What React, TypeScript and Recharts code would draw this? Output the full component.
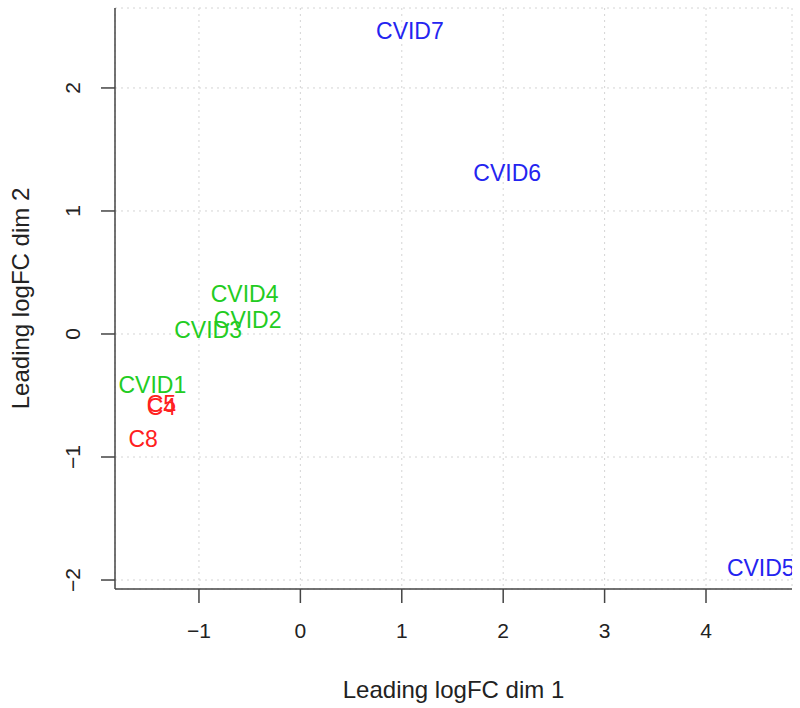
import React from 'react';
import { ScatterChart, Scatter, XAxis, YAxis, CartesianGrid } from 'recharts';

const redNames = ['C5', 'C4', 'C8'];
const redX = [-1.37, -1.37, -1.55];
const redY = [-0.57, -0.59, -0.855];

const greenNames = ['CVID1', 'CVID2', 'CVID3', 'CVID4'];
const greenX = [-1.46, -0.52, -0.91, -0.55];
const greenY = [-0.415, 0.11, 0.035, 0.325];

const blueNames = ['CVID5', 'CVID6', 'CVID7'];
const blueX = [4.54, 2.04, 1.08];
const blueY = [-1.9, 1.31, 2.46];

const xTicks = [-1, 0, 1, 2, 3, 4];
const yTicks = [-2, -1, 0, 1, 2];

const font = '"Liberation Sans", Arial, sans-serif';

const toRows = (names: string[], xs: number[], ys: number[]) =>
  names.map((name, i) => ({ name, x: xs[i], y: ys[i] }));

const red = toRows(redNames, redX, redY);
const green = toRows(greenNames, greenX, greenY);
const blue = toRows(blueNames, blueX, blueY);

const fmt = (v: number) => (v < 0 ? '\u2212' + Math.abs(v) : String(v));

const labelShape = (color: string) => (props: any) => (
  <text
    x={props.cx}
    y={props.cy}
    textAnchor="middle"
    dominantBaseline="central"
    fill={color}
    fontSize={23}
    fontFamily={font}
  >
    {props.payload.name}
  </text>
);

const XTick = (props: any) => (
  <text x={props.x} y={props.y} dy={25} textAnchor="middle" fill="#222" fontSize={21} fontFamily={font}>
    {fmt(props.payload.value)}
  </text>
);

const YTick = (props: any) => (
  <text
    x={props.x - 26}
    y={props.y}
    transform={`rotate(-90 ${props.x - 26} ${props.y})`}
    textAnchor="middle"
    dominantBaseline="central"
    fill="#222"
    fontSize={21}
    fontFamily={font}
  >
    {fmt(props.payload.value)}
  </text>
);

export default function App() {
  return (
    <div style={{ position: 'absolute', left: 0, top: 0, width: 800, height: 708, background: '#fff' }}>
      <ScatterChart width={800} height={708} margin={{ top: 8, right: 8, bottom: 0, left: 0 }}>
        <CartesianGrid stroke="#d4d4d4" strokeDasharray="2 4" />
        <XAxis
          type="number"
          dataKey="x"
          domain={[-1.828, 4.848]}
          ticks={xTicks}
          allowDataOverflow
          height={119}
          tickSize={14}
          tickMargin={10}
          tick={<XTick />}
          stroke="#444"
          strokeWidth={1.5}
          label={{ value: 'Leading logFC dim 1', position: 'insideBottom', offset: 10, fill: '#222', fontSize: 24, fontFamily: font }}
        />
        <XAxis xAxisId="top" orientation="top" type="number" domain={[-1.828, 4.848]} height={0} tick={false} tickLine={false} stroke="#444" strokeWidth={1.5} />
        <YAxis
          type="number"
          dataKey="y"
          domain={[-2.073, 2.65]}
          ticks={yTicks}
          allowDataOverflow
          width={115}
          tickSize={14}
          tick={<YTick />}
          stroke="#444"
          strokeWidth={1.5}
          label={{ value: 'Leading logFC dim 2', angle: -90, position: 'insideLeft', offset: 20, fill: '#222', fontSize: 24, fontFamily: font, style: { textAnchor: 'middle' } }}
        />
        <YAxis yAxisId="right" orientation="right" type="number" domain={[-2.073, 2.65]} width={0} tick={false} tickLine={false} stroke="#444" strokeWidth={1.5} />
        <Scatter data={red} fill="#ff0000" shape={labelShape('#ff2020')} isAnimationActive={false} />
        <Scatter data={green} fill="#00cd00" shape={labelShape('#22cc22')} isAnimationActive={false} />
        <Scatter data={blue} fill="#0000ff" shape={labelShape('#2424f0')} isAnimationActive={false} />
      </ScatterChart>
    </div>
  );
}
